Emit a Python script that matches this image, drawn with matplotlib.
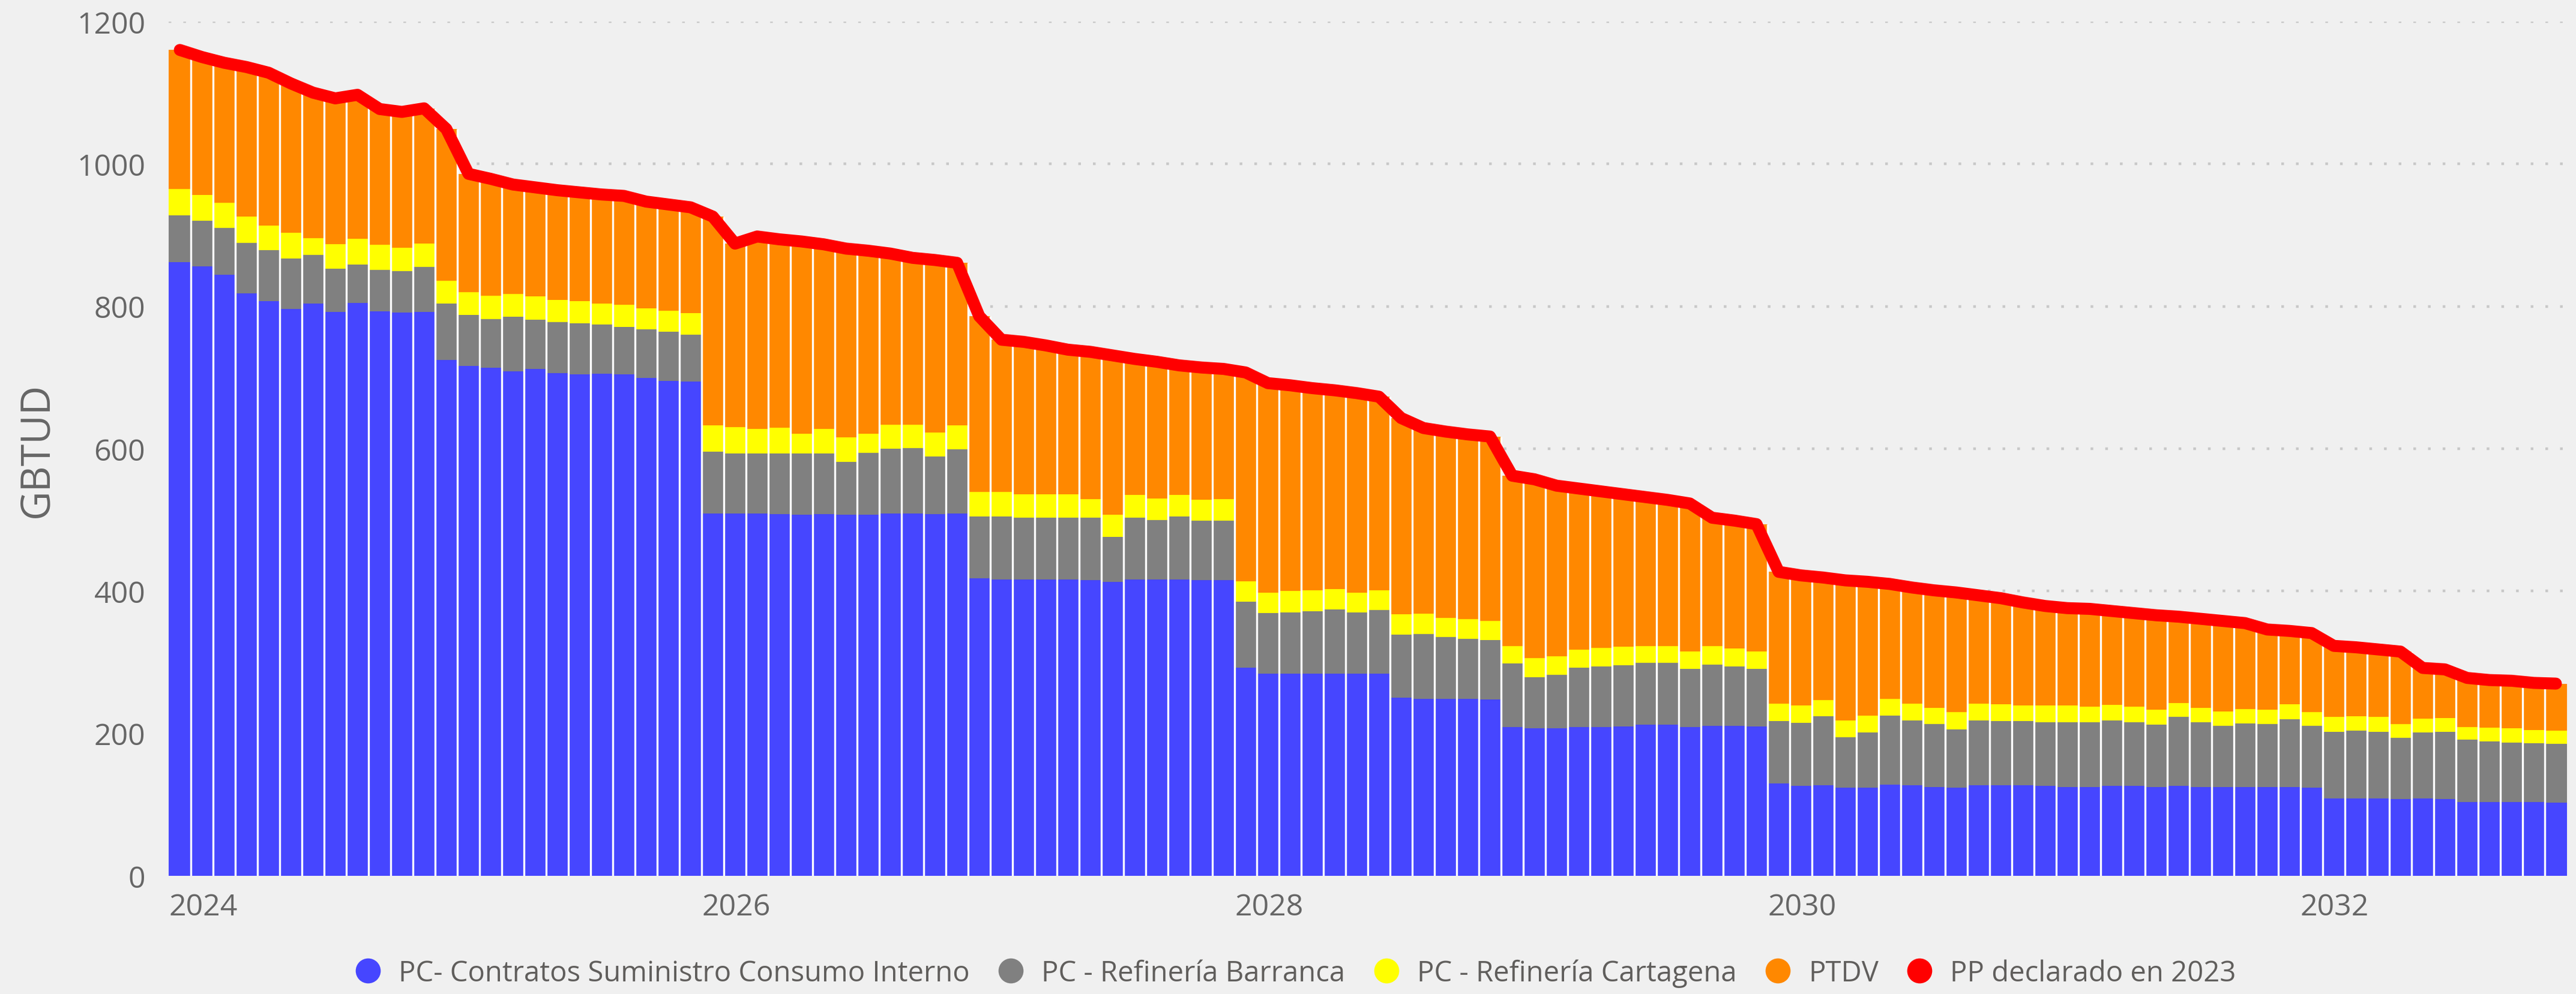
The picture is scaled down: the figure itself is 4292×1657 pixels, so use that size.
import matplotlib.pyplot as plt
import numpy as np
import pandas as pd
from matplotlib.lines import Line2D

# monthly series, Jan 2024 .. Dec 2032 (GBTUD)
months = pd.date_range('2024-01-01', '2032-12-01', freq='MS')

contratos = [862, 856, 844, 818, 807, 796, 804, 792, 805, 793, 791, 792,
             725, 716, 714, 709, 712, 706, 704, 705, 704, 699, 695, 694,
             509, 509, 509, 508, 507, 508, 507, 507, 509, 509, 508, 509,
             418, 416, 416, 416, 416, 415, 413, 416, 416, 416, 415, 415,
             292, 284, 284, 284, 284, 284, 284, 250, 249, 249, 249, 248,
             209, 207, 207, 209, 209, 210, 212, 212, 209, 211, 211, 210,
             130, 126, 127, 124, 124, 128, 127, 125, 124, 127, 127, 127,
             126, 125, 125, 126, 126, 125, 126, 125, 125, 125, 125, 125,
             124, 109, 109, 109, 108, 109, 108, 104, 104, 104, 104, 103]

barranca = [66, 64, 66, 71, 72, 71, 68, 61, 54, 58, 58, 63,
            79, 72, 68, 76, 69, 72, 72, 69, 67, 69, 69, 66,
            87, 84, 84, 85, 86, 85, 74, 87, 91, 92, 81, 90,
            87, 89, 87, 87, 87, 88, 63, 87, 84, 89, 84, 84,
            93, 85, 86, 88, 90, 86, 89, 89, 91, 86, 84, 83,
            89, 72, 75, 83, 85, 86, 87, 87, 82, 86, 83, 81,
            87, 89, 97, 71, 77, 97, 91, 88, 82, 91, 90, 90,
            90, 91, 91, 92, 90, 87, 97, 91, 86, 89, 88, 95,
            87, 93, 95, 93, 86, 92, 94, 87, 85, 83, 82, 82]

cartagena = [37, 36, 35, 37, 34, 36, 24, 34, 36, 35, 33, 33,
             32, 32, 33, 32, 33, 31, 31, 30, 31, 29, 30, 30,
             37, 37, 35, 36, 28, 35, 35, 27, 34, 33, 34, 34,
             34, 34, 33, 33, 33, 26, 31, 32, 30, 30, 29, 30,
             29, 29, 30, 29, 29, 28, 28, 28, 28, 27, 28, 27,
             25, 27, 26, 26, 26, 26, 24, 24, 24, 26, 25, 24,
             25, 24, 23, 23, 24, 24, 24, 23, 24, 24, 24, 22,
             23, 23, 22, 22, 22, 21, 20, 20, 20, 20, 20, 21,
             19, 21, 20, 21, 19, 20, 20, 18, 19, 20, 19, 19]

ptdv = [195, 194, 197, 210, 215, 210, 204, 205, 202, 191, 191, 190,
        213, 166, 164, 154, 153, 154, 153, 153, 153, 150, 149, 149,
        293, 258, 270, 265, 270, 259, 265, 257, 240, 234, 242, 228,
        247, 214, 214, 209, 203, 207, 224, 191, 192, 182, 186, 183,
        293, 294, 289, 284, 279, 280, 272, 276, 261, 262, 259, 259,
        239, 251, 240, 226, 220, 214, 209, 205, 208, 180, 180, 179,
        185, 183, 172, 197, 188, 161, 163, 165, 168, 152, 149, 145,
        140, 137, 137, 132, 131, 133, 121, 125, 127, 121, 113, 103,
        111, 100, 97, 95, 102, 71, 68, 69, 67, 67, 66, 66]

pp_2023 = [1160, 1150, 1142, 1136, 1128, 1113, 1100, 1092, 1097, 1077, 1073, 1078,
           1049, 986, 979, 971, 967, 963, 960, 957, 955, 947, 943, 939,
           926, 888, 898, 894, 891, 887, 881, 878, 874, 868, 865, 861,
           786, 753, 750, 745, 739, 736, 731, 726, 722, 717, 714, 712,
           707, 692, 689, 685, 682, 678, 673, 643, 629, 624, 620, 617,
           562, 557, 548, 544, 540, 536, 532, 528, 523, 503, 499, 494,
           427, 422, 419, 415, 413, 410, 405, 401, 398, 394, 390, 384,
           379, 376, 375, 372, 369, 366, 364, 361, 358, 355, 346, 344,
           341, 323, 321, 318, 315, 292, 290, 278, 275, 274, 271, 270]

labels = ['PC- Contratos Suministro Consumo Interno', 'PC - Refinería Barranca',
          'PC - Refinería Cartagena', 'PTDV', 'PP declarado en 2023']
colors = ['#4646FF', '#808080', '#FFFF00', '#FF8800', '#FF0000']

plt.rcParams['font.family'] = ['Open Sans', 'DejaVu Sans']
BG = '#f0f0f0'
TXT = '#666666'

fig = plt.figure(figsize=(21.46, 8.29), dpi=200, facecolor=BG)
ax = fig.add_axes([0.0655, 0.1188, 0.931, 0.859], facecolor=BG)

x = np.arange(len(months))
bottom = np.zeros(len(x))
for vals, color in zip([contratos, barranca, cartagena, ptdv], colors[:4]):
  ax.bar(x, vals, width=1.0, bottom=bottom, color=color, linewidth=0, zorder=2)
  bottom += np.array(vals)

# thin white separators between bars
ax.vlines(x[:-1] + 0.5, 0, np.maximum(bottom[:-1], bottom[1:]),
          color='white', lw=1.2, zorder=3)

ax.plot(x, pp_2023, color=colors[4], lw=7.2, solid_capstyle='round',
        solid_joinstyle='round', zorder=4)

ax.set_xlim(-0.5, len(x) - 0.5)
ax.set_ylim(0, 1200)
ax.set_yticks(range(0, 1201, 200))
ax.yaxis.grid(True, linestyle=(0, (1, 4.5)), color='#c8c8c8', lw=1.6)
ax.set_axisbelow(True)
for s in ax.spines.values():
  s.set_visible(False)

year_idx = [i for i, m in enumerate(months) if m.month == 1 and m.year % 2 == 0]
ax.set_xticks(x[year_idx] - 0.5)
ax.set_xticklabels([str(months[i].year) for i in year_idx], ha='left')
ax.tick_params(axis='both', length=0, labelsize=18, labelcolor=TXT)
ax.tick_params(axis='y', pad=14)
ax.tick_params(axis='x', pad=10)

fig.text(62 / 4292, 1 - 750 / 1658, 'GBTUD', rotation=90, ha='center',
         va='center', fontsize=24, color=TXT)

handles = [Line2D([], [], marker='o', ls='', markersize=14, color=c) for c in colors]
fig.legend(handles, labels, loc='center', bbox_to_anchor=(0.5, 0.021), ncol=5,
           frameon=False, fontsize=17, handletextpad=0.08, columnspacing=0.45,
           labelcolor='#605e5c')

fig.savefig('out.png', dpi=200, facecolor=BG)
